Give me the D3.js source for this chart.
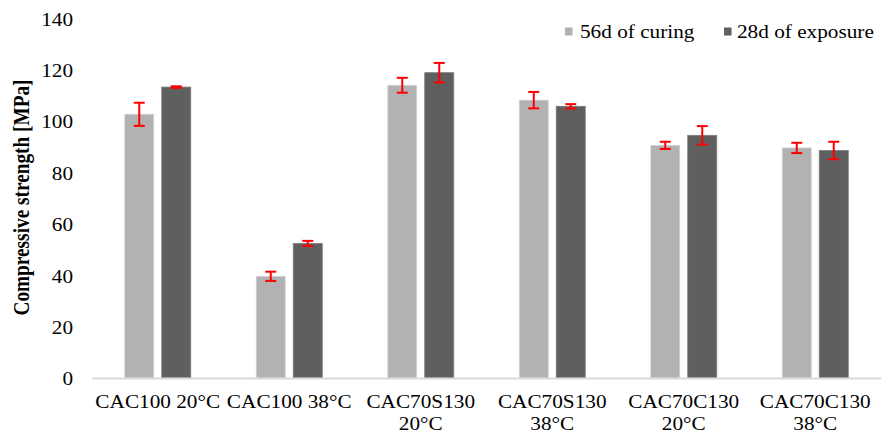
<!DOCTYPE html>
<html>
<head>
<meta charset="utf-8">
<script src="https://cdn.jsdelivr.net/npm/d3@7"></script>
<style>
  html, body { margin: 0; padding: 0; background: #fff; }
  svg { display: block; }
  text { font-family: "Liberation Serif", "Times New Roman", serif; fill: #000; }
</style>
</head>
<body>
<svg id="chart" width="881" height="434"></svg>
<script>
const categories = ["CAC100 20°C", "CAC100 38°C", "CAC70S130 20°C", "CAC70S130 38°C", "CAC70C130 20°C", "CAC70C130 38°C"];
const seriesNames = ["56d of curing", "28d of exposure"];
const curing56 = [102.7, 39.6, 114.0, 108.2, 90.6, 89.6];
const curing56Err = [4.5, 1.8, 2.9, 3.2, 1.4, 2.0];
const exposure28 = [113.3, 52.4, 118.9, 105.8, 94.5, 88.6];
const exposure28Err = [0.3, 1.0, 3.8, 0.85, 3.6, 3.4];
const yTicks = [0, 20, 40, 60, 80, 100, 120, 140];
const colors = ["#b2b2b2", "#5f5f5f"];
const strokes = ["#d4d4d4", "#7c7c7c"];

const svg = d3.select("#chart");
const margin = { left: 92, right: 0, top: 18.5, bottom: 56 };
const W = 881, H = 434;
const stretch = 1.18;
const FONT = '"Liberation Serif", "Times New Roman", serif';

const x0 = d3.scaleBand().domain(categories).range([margin.left, W - margin.right]).padding(0);
const x1 = d3.scaleBand().domain(seriesNames)
  .range([x0.bandwidth() / 2 - 33, x0.bandwidth() / 2 + 33])
  .paddingInner(0.216).paddingOuter(0);
const y = d3.scaleLinear().domain([0, 140]).range([378, margin.top]);

function stretchText(sel, factor) {
  sel.each(function () {
    const len = this.getComputedTextLength();
    d3.select(this).attr("textLength", len * factor).attr("lengthAdjust", "spacingAndGlyphs");
  });
}

// Y axis (labels only)
const yAxis = d3.axisLeft(y).tickValues(yTicks).tickSize(0).tickPadding(0);
const yg = svg.append("g").attr("transform", `translate(73,1)`).call(yAxis);
yg.attr("font-family", FONT);
yg.select(".domain").remove();
yg.selectAll("text").attr("font-size", 18).attr("fill", "#000");
stretchText(yg.selectAll("text"), stretch);

// Y axis title
svg.append("text")
  .attr("transform", `translate(29,${(80 + 315) / 2}) scale(1.18,1) rotate(-90)`)
  .attr("text-anchor", "middle")
  .attr("font-family", FONT)
  .attr("font-size", 19.3)
  .attr("font-weight", "bold")
  .text("Compressive strength [MPa]");

// Bars
const data = categories.map((c, i) => ({
  cat: c,
  vals: [
    { s: seriesNames[0], v: curing56[i], e: curing56Err[i], k: 0 },
    { s: seriesNames[1], v: exposure28[i], e: exposure28Err[i], k: 1 }
  ]
}));

const groups = svg.append("g").selectAll("g").data(data).join("g")
  .attr("transform", d => `translate(${x0(d.cat)},0)`);

groups.selectAll("rect").data(d => d.vals).join("rect")
  .attr("x", d => x1(d.s))
  .attr("width", x1.bandwidth())
  .attr("y", d => y(d.v))
  .attr("height", d => y(0) - y(d.v))
  .attr("fill", d => colors[d.k])
  .attr("stroke", d => strokes[d.k])
  .attr("stroke-width", 0.8);

// Axis baseline
svg.append("line")
  .attr("x1", margin.left).attr("x2", W)
  .attr("y1", y(0) + 0.5).attr("y2", y(0) + 0.5)
  .attr("stroke", "#d9d9d9").attr("stroke-width", 2);

// Error bars
const eb = groups.selectAll("g.err").data(d => d.vals).join("g").attr("class", "err")
  .attr("transform", d => `translate(${x1(d.s) + x1.bandwidth() / 2},0)`);
eb.append("line").attr("x1", 0).attr("x2", 0)
  .attr("y1", d => y(d.v + d.e)).attr("y2", d => y(d.v - d.e))
  .attr("stroke", "#ff0000").attr("stroke-width", 2);
eb.append("line").attr("x1", -5.5).attr("x2", 5.5)
  .attr("y1", d => y(d.v + d.e)).attr("y2", d => y(d.v + d.e))
  .attr("stroke", "#ff0000").attr("stroke-width", 2);
eb.append("line").attr("x1", -5.5).attr("x2", 5.5)
  .attr("y1", d => y(d.v - d.e)).attr("y2", d => y(d.v - d.e))
  .attr("stroke", "#ff0000").attr("stroke-width", 2);

// X axis labels with wrapping
const xl = svg.append("g").attr("font-family", FONT);
categories.forEach(c => {
  const cx = x0(c) + x0.bandwidth() / 2;
  const t = xl.append("text").attr("x", cx).attr("y", 408).attr("text-anchor", "middle")
    .attr("font-size", 18).text(c);
  const w = t.node().getComputedTextLength() * stretch;
  if (w > x0.bandwidth()) {
    const idx = c.lastIndexOf(" ");
    const l1 = c.slice(0, idx), l2 = c.slice(idx + 1);
    t.text(l1);
    stretchText(t, stretch);
    const t2 = xl.append("text").attr("x", cx).attr("y", 430).attr("text-anchor", "middle")
      .attr("font-size", 18).text(l2);
    stretchText(t2, stretch);
  } else {
    stretchText(t, stretch);
  }
});

// Legend
const legendPos = [{ sq: 565, tx: 580 }, { sq: 724, tx: 737 }];
const lg = svg.append("g").attr("font-family", FONT).selectAll("g").data(seriesNames).join("g");
lg.append("rect")
  .attr("x", (d, i) => legendPos[i].sq).attr("y", 27.5)
  .attr("width", 7.5).attr("height", 8)
  .attr("fill", (d, i) => colors[i]);
const lt = lg.append("text")
  .attr("x", (d, i) => legendPos[i].tx).attr("y", 38.3)
  .attr("font-size", 18).text(d => d);
stretchText(lt, stretch);
</script>
</body>
</html>
